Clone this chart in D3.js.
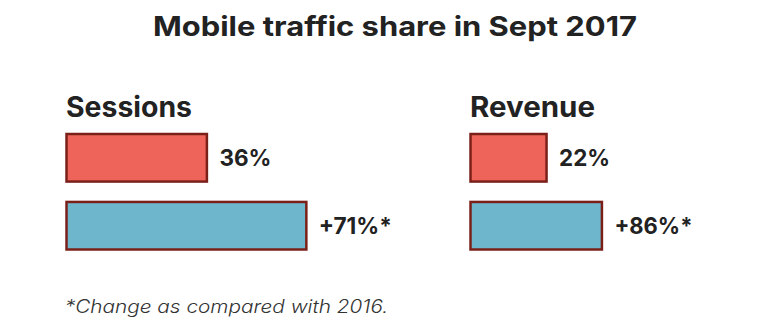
<!DOCTYPE html>
<html>
<head>
<meta charset="utf-8">
<script src="https://cdn.jsdelivr.net/npm/d3@7"></script>
<style>
  html, body { margin: 0; padding: 0; background: #ffffff; }
  svg { display: block; }
  text { font-family: Inter, "Open Sans", "DejaVu Sans", sans-serif; fill: #222222; }
</style>
</head>
<body>
<svg id="chart" width="757" height="335"></svg>
<script>
// ---- data ----
const title = "Mobile traffic share in Sept 2017";
const footnote = "*Change as compared with 2016.";
const panels = ["Sessions", "Revenue"];
const rows = ["share", "change"];
const shareLabels = ["36%", "22%"];
const changeLabels = ["+71%*", "+86%*"];
// bar lengths as drawn in the picture (percentage-point units)
const shareBarLength = [36, 19.5];
const changeBarLength = [61.5, 33.7];

// ---- layout ----
const svg = d3.select("#chart");

const colors = { share: "#ee645a", change: "#6db6cc" };
const strokeColor = "#7b2019";

const xPanel = d3.scalePoint().domain(panels).range([66.5, 470.5]);
const xLen = d3.scaleLinear().domain([0, 100]).range([0, 390]);
const yRow = d3.scaleBand().domain(rows).range([134, 249.5]).paddingInner(0.3).paddingOuter(0);

function fitText(sel, target) {
  sel.each(function () {
    const len = this.getComputedTextLength();
    if (target && Math.abs(len - target) > 1) {
      d3.select(this).attr("textLength", target).attr("lengthAdjust", "spacingAndGlyphs");
    }
  });
}

// title
svg.append("text")
  .attr("x", 395).attr("y", 36)
  .attr("text-anchor", "middle")
  .style("font-size", "27px").style("font-weight", 700)
  .text(title)
  .call(fitText, 484);

const panelWidths = [126, 125];
const shareLabelWidths = [52, 51];
const changeLabelWidths = [73, 78];

panels.forEach((p, i) => {
  const g = svg.append("g");
  const x0 = xPanel(p);

  g.append("text")
    .attr("x", x0 - 0.5).attr("y", 116.5)
    .style("font-size", "28px").style("font-weight", 700)
    .text(p)
    .call(fitText, panelWidths[i]);

  const bars = [
    { row: "share", len: shareBarLength[i], label: shareLabels[i], lw: shareLabelWidths[i] },
    { row: "change", len: changeBarLength[i], label: changeLabels[i], lw: changeLabelWidths[i] }
  ];

  g.selectAll("rect").data(bars).join("rect")
    .attr("x", x0)
    .attr("y", d => yRow(d.row))
    .attr("width", d => xLen(d.len))
    .attr("height", yRow.bandwidth())
    .attr("fill", d => colors[d.row])
    .attr("stroke", strokeColor)
    .attr("stroke-width", 2.5);

  g.selectAll("text.val").data(bars).join("text")
    .attr("class", "val")
    .attr("x", d => x0 + xLen(d.len) + 12.5)
    .attr("y", d => yRow(d.row) + yRow.bandwidth() / 2 + 8.5)
    .style("font-size", "23px").style("font-weight", 700)
    .text(d => d.label)
    .each(function (d) { fitText(d3.select(this), d.lw); });
});

// footnote
svg.append("text")
  .attr("x", 65).attr("y", 313)
  .style("font-size", "18px").style("font-weight", 300).style("font-style", "italic")
  .style("fill", "#333333")
  .text(footnote)
  .call(fitText, 323);
</script>
</body>
</html>
